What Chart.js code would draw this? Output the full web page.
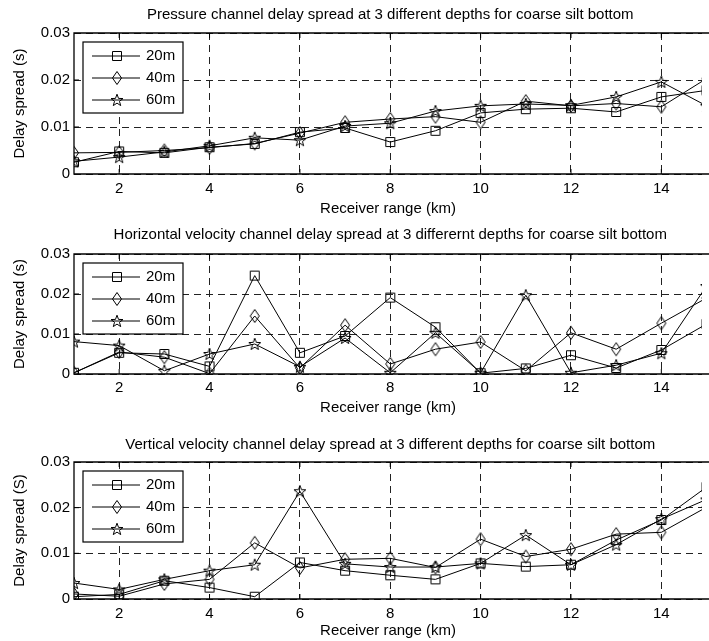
<!DOCTYPE html>
<html lang="en">
<head>
  <meta charset="UTF-8">
  <title>Delay spread at 3 depths for coarse silt bottom</title>
  <style>
    * {
      margin: 0;
      padding: 0;
      box-sizing: border-box;
    }

    body {
      width: 709px;
      height: 641px;
      background: #fff;
      position: relative;
      overflow: hidden;
    }

    .panel {
      position: absolute;
      left: 0;
      width: 709px;
    }

    .panel canvas {
      display: block;
    }
  </style>
</head>
<body>

  <div class="panel" style="top:0px"><canvas id="pressureChart" width="709" height="218"></canvas></div>
  <div class="panel" style="top:218px"><canvas id="horizontalChart" width="709" height="206"></canvas></div>
  <div class="panel" style="top:424px"><canvas id="verticalChart" width="709" height="217"></canvas></div>

  <script src="https://cdn.jsdelivr.net/npm/chart.js"></script>
  <script>
    // Receiver range (km) and tick labels
    const ranges = [1, 2, 3, 4, 5, 6, 7, 8, 9, 10, 11, 12, 13, 14, 15];
    const xTicks = [2, 4, 6, 8, 10, 12, 14];
    const yTicks = [0, 0.01, 0.02, 0.03];
    const depths = ['20m', '40m', '60m'];

    // Pressure channel
    const pressure20 = [0.0025, 0.0048, 0.0045, 0.0057, 0.0064, 0.0089, 0.0098, 0.0068, 0.0092, 0.0130, 0.0138, 0.0140, 0.0132, 0.0164, 0.0178];
    const pressure40 = [0.0045, 0.0046, 0.0050, 0.0056, 0.0065, 0.0087, 0.0110, 0.0117, 0.0122, 0.0110, 0.0155, 0.0145, 0.0150, 0.0143, 0.0203];
    const pressure60 = [0.0027, 0.0036, 0.0047, 0.0060, 0.0077, 0.0072, 0.0102, 0.0108, 0.0134, 0.0145, 0.0149, 0.0146, 0.0164, 0.0196, 0.0145];

    // Horizontal velocity channel
    const horizontal20 = [0.0003, 0.0053, 0.0050, 0.0019, 0.0246, 0.0053, 0.0095, 0.0191, 0.0117, 0.0002, 0.0014, 0.0047, 0.0015, 0.0060, 0.0125];
    const horizontal40 = [0.0003, 0.0055, 0.0042, 0.0001, 0.0145, 0.0015, 0.0122, 0.0025, 0.0062, 0.0080, 0.0008, 0.0103, 0.0062, 0.0127, 0.0190];
    const horizontal60 = [0.0081, 0.0071, 0.0008, 0.0050, 0.0075, 0.0018, 0.0090, 0.0003, 0.0103, 0.0003, 0.0197, 0.0003, 0.0022, 0.0052, 0.0220];

    // Vertical velocity channel
    const vertical20 = [0.0005, 0.0010, 0.0040, 0.0025, 0.0005, 0.0080, 0.0062, 0.0052, 0.0043, 0.0078, 0.0071, 0.0075, 0.0129, 0.0173, 0.0245];
    const vertical40 = [0.0011, 0.0006, 0.0033, 0.0043, 0.0123, 0.0068, 0.0087, 0.0089, 0.0069, 0.0131, 0.0093, 0.0109, 0.0142, 0.0146, 0.0201];
    const vertical60 = [0.0035, 0.0021, 0.0043, 0.0062, 0.0075, 0.0236, 0.0077, 0.0070, 0.0070, 0.0078, 0.0140, 0.0075, 0.0119, 0.0175, 0.0218];

    const FONT = 'Arial, "Liberation Sans", sans-serif';
    const FONT_SIZE = 15;
    Chart.defaults.font.family = FONT;
    Chart.defaults.font.size = FONT_SIZE;
    Chart.defaults.color = '#000';

    // hollow matlab-style markers drawn once onto small canvases
    function makeMarker(kind) {
      const c = document.createElement('canvas');
      c.width = 16;
      c.height = 16;
      const g = c.getContext('2d');
      g.strokeStyle = '#000';
      g.lineWidth = 1;
      g.beginPath();
      if (kind === 'square') {
        g.rect(3.5, 3.5, 9, 9);
      } else if (kind === 'diamond') {
        g.moveTo(8, 1.5);
        g.lineTo(12.5, 8);
        g.lineTo(8, 14.5);
        g.lineTo(3.5, 8);
        g.closePath();
      } else {
        for (let i = 0; i < 10; i++) {
          const r = i % 2 === 0 ? 6.3 : 2.6;
          const a = -Math.PI / 2 + i * Math.PI / 5;
          const px = 8 + r * Math.cos(a);
          const py = 8.5 + r * Math.sin(a);
          if (i === 0) g.moveTo(px, py); else g.lineTo(px, py);
        }
        g.closePath();
      }
      g.stroke();
      return c;
    }

    const markers = [makeMarker('square'), makeMarker('diamond'), makeMarker('star')];

    // box, inner ticks, legend and title like a matlab subplot
    const matlabAxes = {
      id: 'matlabAxes',
      afterDatasetsDraw(chart, args, opts) {
        const { ctx, chartArea } = chart;
        const bx = chartArea.left + 9;
        const by = chartArea.top + 9;
        ctx.save();
        ctx.fillStyle = '#fff';
        ctx.fillRect(bx, by, 100, 71);
        ctx.strokeStyle = '#000';
        ctx.lineWidth = 1.2;
        ctx.strokeRect(bx, by, 100, 71);
        ctx.font = FONT_SIZE + 'px ' + FONT;
        ctx.textAlign = 'left';
        ctx.textBaseline = 'middle';
        ctx.fillStyle = '#000';
        depths.forEach((d, i) => {
          const ry = by + 14 + i * 22;
          ctx.lineWidth = 1;
          ctx.beginPath();
          ctx.moveTo(bx + 9, ry);
          ctx.lineTo(bx + 57, ry);
          ctx.stroke();
          ctx.drawImage(markers[i], bx + 34 - 8, ry - 8);
          ctx.fillText(d, bx + 63, ry);
        });
        ctx.restore();
      },
      afterDraw(chart, args, opts) {
        const { ctx, chartArea, scales } = chart;
        const { left, top, bottom } = chartArea;
        const right = chart.width;
        ctx.save();
        ctx.strokeStyle = '#000';
        ctx.lineWidth = 1.3;
        ctx.beginPath();
        ctx.moveTo(right, top);
        ctx.lineTo(left, top);
        ctx.lineTo(left, bottom);
        ctx.lineTo(right, bottom);
        ctx.stroke();

        ctx.lineWidth = 1;
        ctx.beginPath();
        xTicks.forEach(v => {
          const px = scales.x.getPixelForValue(v);
          ctx.moveTo(px, bottom);
          ctx.lineTo(px, bottom - 5);
          ctx.moveTo(px, top);
          ctx.lineTo(px, top + 5);
        });
        yTicks.slice(1, -1).forEach(v => {
          const py = scales.y.getPixelForValue(v);
          ctx.moveTo(left, py);
          ctx.lineTo(left + 5, py);
        });
        ctx.stroke();

        ctx.font = FONT_SIZE + 'px ' + FONT;
        ctx.textAlign = 'center';
        ctx.textBaseline = 'middle';
        ctx.fillStyle = '#000';
        ctx.fillText(opts.title, scales.x.getPixelForValue(8), top - opts.titleGap);
        ctx.restore();
      }
    };

    function makeChart(id, title, yLabel, series, p) {
      const ctx = document.getElementById(id).getContext('2d');
      return new Chart(ctx, {
        type: 'line',
        data: {
          datasets: series.map((vals, i) => ({
            label: depths[i],
            data: ranges.map((r, j) => ({ x: r, y: vals[j] })),
            borderColor: '#000',
            borderWidth: 1,
            pointStyle: markers[i],
            pointRadius: 6,
            pointHoverRadius: 6,
            tension: 0,
            fill: false
          }))
        },
        options: {
          responsive: false,
          animation: false,
          events: [],
          layout: { padding: { top: p.top, left: 0, right: 0, bottom: 0 } },
          plugins: {
            legend: { display: false },
            tooltip: { enabled: false },
            matlabAxes: { title: title, titleGap: p.titleGap }
          },
          scales: {
            x: {
              type: 'linear',
              min: 1,
              max: 14.9,
              afterBuildTicks: scale => { scale.ticks = xTicks.map(v => ({ value: v })); },
              afterFit: scale => {
                scale.height = p.xh;
                scale.paddingLeft = 0;
                scale.paddingRight = 0;
              },
              ticks: { padding: p.tickPad, maxRotation: 0, autoSkip: false, callback: v => String(v) },
              grid: { color: '#222', lineWidth: 1, drawTicks: false },
              border: { display: false, dash: [7, 5] },
              title: { display: true, text: 'Receiver range (km)', padding: { top: 0, bottom: p.xTitlePad } }
            },
            y: {
              min: 0,
              max: 0.03,
              afterBuildTicks: scale => { scale.ticks = yTicks.map(v => ({ value: v })); },
              afterFit: scale => {
                scale.width = 74;
                scale.paddingTop = 0;
                scale.paddingBottom = 0;
              },
              ticks: { padding: 4, callback: v => (v === 0 ? '0' : v.toFixed(2)) },
              grid: { color: '#222', lineWidth: 1, drawTicks: false },
              border: { display: false, dash: [7, 5] },
              title: { display: true, text: yLabel, padding: { top: 11, bottom: 0 } }
            }
          }
        },
        plugins: [matlabAxes]
      });
    }

    makeChart('pressureChart',
      'Pressure channel delay spread at 3 different depths for coarse silt bottom',
      'Delay spread (s)',
      [pressure20, pressure40, pressure60],
      { top: 33, xh: 44, tickPad: 6, xTitlePad: 0, titleGap: 18 });

    makeChart('horizontalChart',
      'Horizontal velocity channel delay spread at 3 differernt depths for coarse silt bottom',
      'Delay spread (s)',
      [horizontal20, horizontal40, horizontal60],
      { top: 36, xh: 50, tickPad: 5, xTitlePad: 7, titleGap: 19 });

    makeChart('verticalChart',
      'Vertical velocity channel delay spread at 3 different depths for coarse silt bottom',
      'Delay spread (S)',
      [vertical20, vertical40, vertical60],
      { top: 38, xh: 42, tickPad: 6, xTitlePad: 1, titleGap: 17 });
  </script>

</body>
</html>
